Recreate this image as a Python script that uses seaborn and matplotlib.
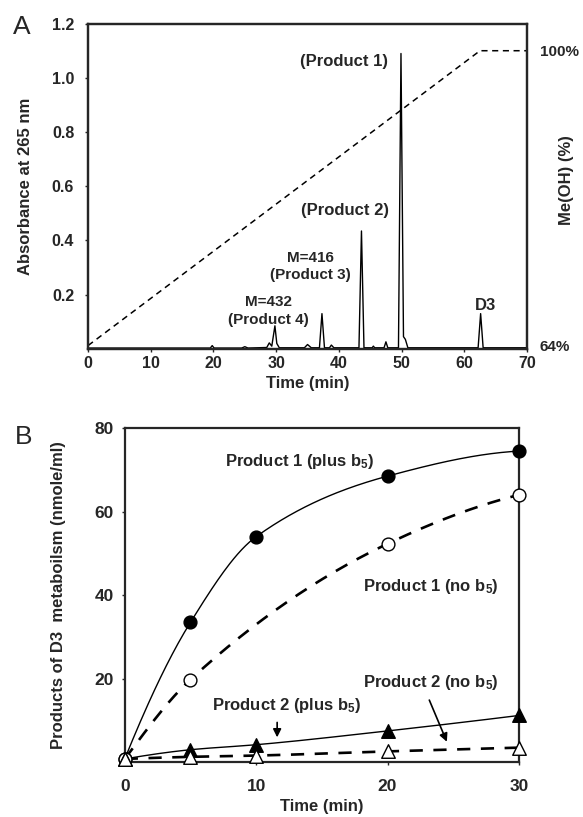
import numpy as np
import pandas as pd
import matplotlib
matplotlib.use("Agg")
import matplotlib.pyplot as plt
import seaborn as sns

# ---- panel A: HPLC trace (time, absorbance at 265 nm) ----
trace_time = [0, 19.5, 19.8, 20.1, 24.5, 25.0, 25.5, 28.5, 28.9, 29.3, 29.5, 29.8,
              30.1, 30.5, 34.5, 35.0, 35.6, 36.9, 37.3, 37.7, 38.5, 38.8, 39.2,
              43.2, 43.6, 44.0, 45.3, 45.5, 45.7, 47.2, 47.5, 47.8, 49.5, 49.9,
              50.3, 50.6, 51.0, 62.2, 62.6, 63.0, 70]
trace_abs = [0.003, 0.003, 0.012, 0.003, 0.003, 0.008, 0.003, 0.005, 0.022, 0.01,
             0.04, 0.085, 0.02, 0.004, 0.004, 0.016, 0.004, 0.004, 0.13, 0.004,
             0.004, 0.014, 0.004, 0.004, 0.435, 0.004, 0.004, 0.01, 0.004, 0.004,
             0.026, 0.004, 0.004, 1.09, 0.045, 0.035, 0.004, 0.004, 0.13, 0.004,
             0.004]
# methanol gradient
grad_time = [0, 62.5, 70]
grad_meoh = [64, 100, 100]

peak_labels = ["(Product 1)", "(Product 2)", "M=416\n(Product 3)",
               "M=432\n(Product 4)", "D3"]
peak_label_x = [40.8, 41.0, 35.5, 28.7, 63.3]
peak_label_y = [1.06, 0.51, 0.305, 0.14, 0.16]

# ---- panel B: time course (nmole/ml) ----
t_p1_plus = [0, 5, 10, 20, 30]
p1_plus = [0.8, 33.5, 54, 68.5, 74.5]
t_p1_no = [0, 5, 20, 30]
p1_no = [0.8, 19.8, 52.3, 64]
t_p2_plus = [0, 5, 10, 20, 30]
p2_plus = [0.8, 3.0, 4.2, 7.5, 11.2]
t_p2_no = [0, 5, 10, 20, 30]
p2_no = [0.8, 1.3, 1.6, 2.6, 3.5]


def pchip(x, y, xs):
    # monotone cubic curve through the measured points
    x = np.asarray(x, float)
    y = np.asarray(y, float)
    h = np.diff(x)
    d = np.diff(y) / h
    m = np.zeros_like(y)
    for k in range(1, len(x) - 1):
        if d[k - 1] * d[k] > 0:
            w1 = 2 * h[k] + h[k - 1]
            w2 = h[k] + 2 * h[k - 1]
            m[k] = (w1 + w2) / (w1 / d[k - 1] + w2 / d[k])
    m[0] = ((2 * h[0] + h[1]) * d[0] - h[0] * d[1]) / (h[0] + h[1])
    m[-1] = ((2 * h[-1] + h[-2]) * d[-1] - h[-1] * d[-2]) / (h[-1] + h[-2])
    idx = np.clip(np.searchsorted(x, xs) - 1, 0, len(h) - 1)
    t = (xs - x[idx]) / h[idx]
    h00 = 2 * t**3 - 3 * t**2 + 1
    h10 = t**3 - 2 * t**2 + t
    h01 = -2 * t**3 + 3 * t**2
    h11 = t**3 - t**2
    return (h00 * y[idx] + h10 * h[idx] * m[idx]
            + h01 * y[idx + 1] + h11 * h[idx] * m[idx + 1])


sns.set_style("ticks")
plt.rcParams['font.family'] = ['Liberation Sans', 'DejaVu Sans']
plt.rcParams['font.weight'] = 'bold'
plt.rcParams['axes.labelweight'] = 'bold'
plt.rcParams['mathtext.fontset'] = 'custom'
plt.rcParams['mathtext.rm'] = 'Liberation Sans:bold'
plt.rcParams['mathtext.bf'] = 'Liberation Sans:bold'
plt.rcParams['mathtext.default'] = 'bf'

fig = plt.figure(figsize=(5.83, 8.17), dpi=100)
axA = fig.add_axes([0.151, 0.573, 0.753, 0.398])
axB = fig.add_axes([0.214, 0.067, 0.676, 0.409])

# ---------- panel A ----------
trace = pd.DataFrame({"time": trace_time, "abs": trace_abs})
sns.lineplot(data=trace, x="time", y="abs", ax=axA, color="black", lw=1.0,
             sort=False, estimator=None)
axA.set_xlim(0, 70)
axA.set_ylim(0, 1.2)
axA.set_xticks(range(0, 71, 10))
axA.set_yticks([0.2, 0.4, 0.6, 0.8, 1.0, 1.2])
axA.set_yticklabels(["0.2", "0.4", "0.6", "0.8", "1.0", "1.2"])
axA.set_xlabel("Time (min)", fontsize=12, labelpad=3)
axA.set_ylabel("Absorbance at 265 nm", fontsize=12)
axA.yaxis.set_label_coords(-0.125, 0.5)
axA.tick_params(axis="both", labelsize=11.5, length=2, width=1)
axA.tick_params(axis="y", pad=8)
for s in axA.spines.values():
    s.set_linewidth(1.6)

for lab, x, y in zip(peak_labels, peak_label_x, peak_label_y):
    fs = 11 if lab.startswith("M=") else 12
    axA.text(x, y, lab, ha="center", va="center", fontsize=fs,
             fontweight="bold", linespacing=1.3)

axR = axA.twinx()
grad = pd.DataFrame({"time": grad_time, "meoh": grad_meoh})
sns.lineplot(data=grad, x="time", y="meoh", ax=axR, color="black", lw=1.1,
             linestyle=(0, (4, 3)), sort=False, estimator=None)
axR.set_ylim(63.6, 103.3)
axR.set_yticks([64, 100])
axR.set_yticklabels(["64%", "100%"])
axR.tick_params(axis="y", length=0, pad=9, labelsize=11)
axR.set_ylabel("Me(OH) (%)", fontsize=12)
axR.yaxis.set_label_coords(1.072, 0.52)
for s in axR.spines.values():
    s.set_linewidth(1.6)

fig.text(0.038, 0.967, "A", fontsize=19, fontweight="normal",
         ha="center", va="center")

# ---------- panel B ----------
series = [
    (t_p1_plus, p1_plus, "o", "black", "-", 1.0),
    (t_p1_no, p1_no, "o", "white", (0, (5, 4)), 1.9),
    (t_p2_plus, p2_plus, "^", "black", "-", 1.0),
    (t_p2_no, p2_no, "^", "white", (0, (5, 4)), 1.9),
]
for tx, vy, mk, face, ls, lw in series:
    xs = np.linspace(tx[0], tx[-1], 200)
    curve = pd.DataFrame({"time": xs, "val": pchip(tx, vy, xs)})
    sns.lineplot(data=curve, x="time", y="val", ax=axB, color="black", lw=lw,
                 linestyle=ls, sort=False, estimator=None)
    pts = pd.DataFrame({"time": tx, "val": vy})
    sns.scatterplot(data=pts, x="time", y="val", ax=axB, marker=mk,
                    s=85 if mk == "o" else 95, color=face, edgecolor="black",
                    linewidth=1.0, zorder=5, clip_on=False)

axB.set_xlim(0, 30)
axB.set_ylim(0, 80)
axB.set_xticks([0, 10, 20, 30])
axB.set_yticks([20, 40, 60, 80])
axB.set_xlabel("Time (min)", fontsize=12, labelpad=4)
axB.set_ylabel("Products of D3  metaboilsm (nmole/ml)", fontsize=12)
axB.yaxis.set_label_coords(-0.15, 0.5)
axB.tick_params(axis="both", labelsize=12.5, length=2, width=1)
axB.tick_params(axis="x", pad=10)
axB.tick_params(axis="y", pad=6)
for s in axB.spines.values():
    s.set_linewidth(1.6)

axB.text(13.3, 72, r"Product 1 (plus b$_5$)", ha="center", va="center",
         fontsize=12, fontweight="bold")
axB.text(23.3, 42, r"Product 1 (no b$_5$)", ha="center", va="center",
         fontsize=12, fontweight="bold")
axB.text(23.3, 19, r"Product 2 (no b$_5$)", ha="center", va="center",
         fontsize=12, fontweight="bold")
axB.text(12.3, 13.7, r"Product 2 (plus b$_5$)", ha="center", va="center",
         fontsize=12, fontweight="bold")
axB.annotate("", xy=(11.6, 5.3), xytext=(11.6, 10.2),
             arrowprops=dict(arrowstyle="-|>", color="black", lw=1.2,
                             mutation_scale=12))
axB.annotate("", xy=(24.6, 4.3), xytext=(23.1, 15.5),
             arrowprops=dict(arrowstyle="-|>", color="black", lw=1.2,
                             mutation_scale=12))

fig.text(0.04, 0.465, "B", fontsize=19, fontweight="normal",
         ha="center", va="center")

fig.savefig("out.png", dpi=100)
